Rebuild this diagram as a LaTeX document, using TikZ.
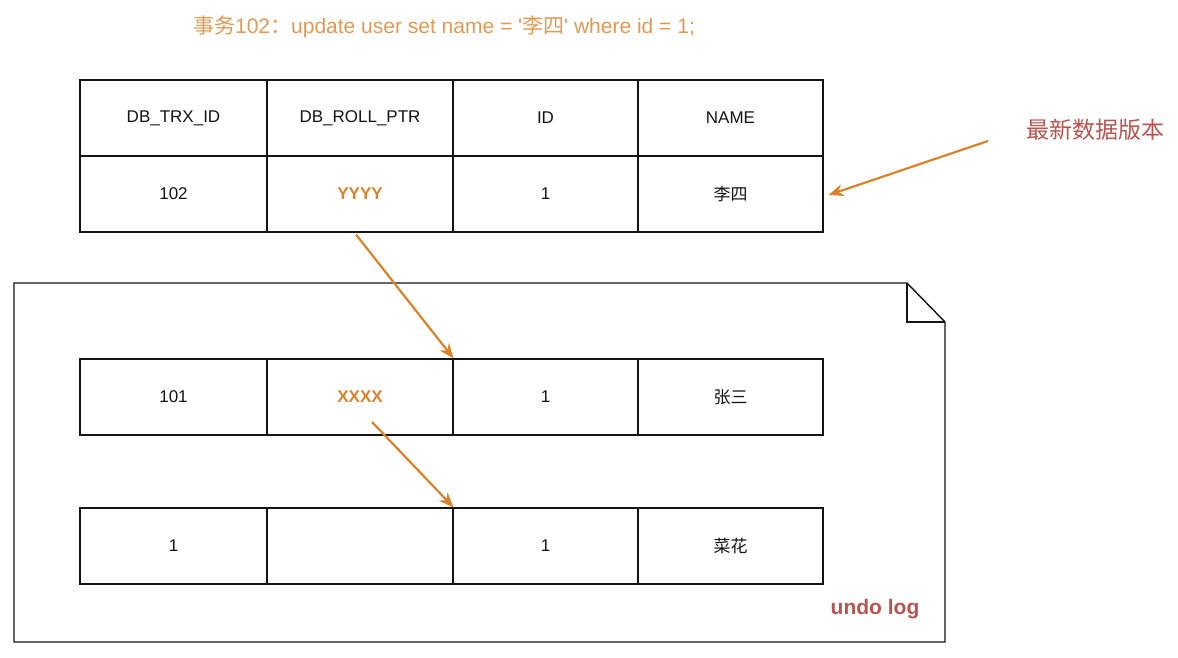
\documentclass[tikz,border=0pt]{standalone}
\usepackage{fontspec}
\setmainfont{Liberation Sans}
\newfontfamily\cjk{Noto Sans CJK SC}
\usetikzlibrary{arrows.meta,calc}
\definecolor{orng}{HTML}{D9822B}
\definecolor{tan}{HTML}{DE9A55}
\definecolor{redlbl}{HTML}{B85450}
\definecolor{ink}{HTML}{141414}
\tikzset{
  cell/.style={draw=ink, line width=1.1pt, minimum height=76pt, inner sep=0pt, font=\fontsize{17}{20}\selectfont, text=ink},
  cA/.style={cell, minimum width=187pt},
  cB/.style={cell, minimum width=186pt},
  cC/.style={cell, minimum width=185pt},
  cD/.style={cell, minimum width=185pt},
  ptr/.style={draw=orng, line width=2.2pt, -{Stealth[length=15pt,width=12pt]}},
}
\begin{document}
\begin{tikzpicture}[x=1pt,y=-1pt]
\useasboundingbox (0,0) rectangle (1178,658);
% title
\node[text=tan, font=\fontsize{21}{24}\selectfont] (title) at (444,27) {{\cjk 事务}102{\cjk ：}update user set name = \textquotesingle{\cjk 李四}\textquotesingle{} where id = 1;};
% undo log container
\draw[ink, line width=1.4pt, line join=miter] (14,283) -- (907,283) -- (945,322) -- (945,642) -- (14,642) -- cycle;
\draw[ink, line width=1.4pt] (907,283) -- (907,322) -- (945,322);
% top table
\node[cA] (h1) at (173.5,118) {DB\_TRX\_ID};
\node[cB] (h2) at (360,118) {DB\_ROLL\_PTR};
\node[cC] (h3) at (545.5,118) {ID};
\node[cD] (h4) at (730.5,118) {NAME};
\node[cA] (d1) at (173.5,194) {102};
\node[cB, text=orng, font=\fontsize{17}{20}\selectfont\bfseries] (d2) at (360,194) {YYYY};
\node[cC] (d3) at (545.5,194) {1};
\node[cD] (d4) at (730.5,194) {\cjk 李四};
% middle row
\node[cA] (m1) at (173.5,397) {101};
\node[cB, text=orng, font=\fontsize{17}{20}\selectfont\bfseries] (m2) at (360,397) {XXXX};
\node[cC] (m3) at (545.5,397) {1};
\node[cD] (m4) at (730.5,397) {\cjk 张三};
% bottom row
\node[cA] (b1) at (173.5,546) {1};
\node[cB] (b2) at (360,546) {};
\node[cC] (b3) at (545.5,546) {1};
\node[cD] (b4) at (730.5,546) {\cjk 菜花};
% labels
\node[text=redlbl, font=\fontsize{23}{26}\selectfont\cjk] (latest) at (1095,130) {最新数据版本};
\node[text=redlbl, font=\fontsize{21}{24}\selectfont\bfseries] (undo) at (875,609) {undo log};
% arrows
\coordinate (a1s) at ($(d2.south)+(-4,2)$);
\draw[ptr] (a1s) -- (m2.north east);
\coordinate (a2s) at ($(m2.center)+(12,25)$);
\draw[ptr] (a2s) -- (b2.north east);
\coordinate (a3s) at (988,141);
\draw[ptr] (a3s) -- ($(d4.east)+(5,1)$);
\end{tikzpicture}
\end{document}
